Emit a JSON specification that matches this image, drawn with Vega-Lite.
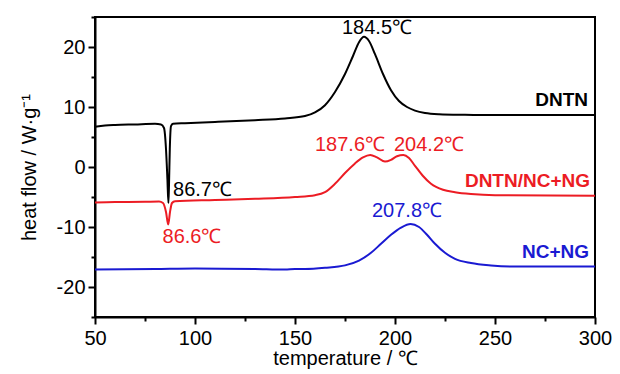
{
  "$schema": "https://vega.github.io/schema/vega-lite/v6.json",
  "width": 500,
  "height": 300,
  "autosize": "none",
  "padding": {"left": 95, "top": 17, "right": 25, "bottom": 57},
  "background": "white",
  "config": {
    "view": {"stroke": "black", "strokeWidth": 2},
    "font": "Liberation Sans",
    "axis": {
      "grid": false,
      "domainColor": "black",
      "domainWidth": 2,
      "tickColor": "black",
      "tickWidth": 2,
      "labelColor": "black",
      "labelFontSize": 20,
      "labelFont": "Liberation Sans",
      "titleFont": "Liberation Sans",
      "titleFontSize": 20,
      "titleFontWeight": "normal",
      "titleColor": "black",
      "labelOverlap": false,
      "labelFlush": false
    }
  },
  "datasets": {
    "curves": [
      {"series": "DNTN", "t": 50, "v": 6.7},
      {"series": "DNTN", "t": 55, "v": 6.9},
      {"series": "DNTN", "t": 60, "v": 7.0},
      {"series": "DNTN", "t": 70, "v": 7.1},
      {"series": "DNTN", "t": 80, "v": 7.2},
      {"series": "DNTN", "t": 83, "v": 7.1},
      {"series": "DNTN", "t": 84.5, "v": 6.5},
      {"series": "DNTN", "t": 85.5, "v": 3},
      {"series": "DNTN", "t": 86.2, "v": -2},
      {"series": "DNTN", "t": 86.7, "v": -6.0},
      {"series": "DNTN", "t": 87.0, "v": -3},
      {"series": "DNTN", "t": 87.4, "v": 3},
      {"series": "DNTN", "t": 88, "v": 6.8},
      {"series": "DNTN", "t": 89, "v": 7.2},
      {"series": "DNTN", "t": 95, "v": 7.3},
      {"series": "DNTN", "t": 110, "v": 7.5},
      {"series": "DNTN", "t": 130, "v": 7.8},
      {"series": "DNTN", "t": 145, "v": 8.1},
      {"series": "DNTN", "t": 155, "v": 8.5},
      {"series": "DNTN", "t": 160, "v": 9.1},
      {"series": "DNTN", "t": 165, "v": 10.3},
      {"series": "DNTN", "t": 170, "v": 12.5},
      {"series": "DNTN", "t": 175, "v": 15.5},
      {"series": "DNTN", "t": 179, "v": 18.5},
      {"series": "DNTN", "t": 182, "v": 20.8},
      {"series": "DNTN", "t": 184.5, "v": 21.7},
      {"series": "DNTN", "t": 187, "v": 21.0},
      {"series": "DNTN", "t": 190, "v": 18.8},
      {"series": "DNTN", "t": 194, "v": 15.5},
      {"series": "DNTN", "t": 198, "v": 12.8},
      {"series": "DNTN", "t": 202, "v": 11.0},
      {"series": "DNTN", "t": 206, "v": 10.0},
      {"series": "DNTN", "t": 210, "v": 9.4},
      {"series": "DNTN", "t": 215, "v": 9.0},
      {"series": "DNTN", "t": 222, "v": 8.8},
      {"series": "DNTN", "t": 235, "v": 8.7},
      {"series": "DNTN", "t": 250, "v": 8.65},
      {"series": "DNTN", "t": 300, "v": 8.65},
      {"series": "DNTN/NC+NG", "t": 50, "v": -5.9},
      {"series": "DNTN/NC+NG", "t": 60, "v": -5.85},
      {"series": "DNTN/NC+NG", "t": 75, "v": -5.8},
      {"series": "DNTN/NC+NG", "t": 82, "v": -5.75},
      {"series": "DNTN/NC+NG", "t": 84, "v": -6.0},
      {"series": "DNTN/NC+NG", "t": 85.5, "v": -7.5},
      {"series": "DNTN/NC+NG", "t": 86.6, "v": -9.6},
      {"series": "DNTN/NC+NG", "t": 87.5, "v": -7.5},
      {"series": "DNTN/NC+NG", "t": 88.5, "v": -6.0},
      {"series": "DNTN/NC+NG", "t": 90, "v": -5.7},
      {"series": "DNTN/NC+NG", "t": 110, "v": -5.5},
      {"series": "DNTN/NC+NG", "t": 130, "v": -5.3},
      {"series": "DNTN/NC+NG", "t": 150, "v": -5.0},
      {"series": "DNTN/NC+NG", "t": 160, "v": -4.7},
      {"series": "DNTN/NC+NG", "t": 165, "v": -4.2},
      {"series": "DNTN/NC+NG", "t": 170, "v": -2.8},
      {"series": "DNTN/NC+NG", "t": 175, "v": -1.0},
      {"series": "DNTN/NC+NG", "t": 180, "v": 0.6},
      {"series": "DNTN/NC+NG", "t": 184, "v": 1.6},
      {"series": "DNTN/NC+NG", "t": 187.6, "v": 2.0},
      {"series": "DNTN/NC+NG", "t": 191, "v": 1.6},
      {"series": "DNTN/NC+NG", "t": 195, "v": 0.9},
      {"series": "DNTN/NC+NG", "t": 198, "v": 1.2},
      {"series": "DNTN/NC+NG", "t": 201, "v": 1.8},
      {"series": "DNTN/NC+NG", "t": 204.2, "v": 2.0},
      {"series": "DNTN/NC+NG", "t": 207, "v": 1.5},
      {"series": "DNTN/NC+NG", "t": 210, "v": 0.2},
      {"series": "DNTN/NC+NG", "t": 214, "v": -1.5},
      {"series": "DNTN/NC+NG", "t": 218, "v": -2.8},
      {"series": "DNTN/NC+NG", "t": 224, "v": -3.8},
      {"series": "DNTN/NC+NG", "t": 230, "v": -4.2},
      {"series": "DNTN/NC+NG", "t": 238, "v": -4.5},
      {"series": "DNTN/NC+NG", "t": 250, "v": -4.7},
      {"series": "DNTN/NC+NG", "t": 300, "v": -4.8},
      {"series": "NC+NG", "t": 50, "v": -17.1},
      {"series": "NC+NG", "t": 80, "v": -17.0},
      {"series": "NC+NG", "t": 100, "v": -16.9},
      {"series": "NC+NG", "t": 130, "v": -17.0},
      {"series": "NC+NG", "t": 145, "v": -17.1},
      {"series": "NC+NG", "t": 150, "v": -17.0},
      {"series": "NC+NG", "t": 155, "v": -17.0},
      {"series": "NC+NG", "t": 165, "v": -16.8},
      {"series": "NC+NG", "t": 175, "v": -16.4},
      {"series": "NC+NG", "t": 182, "v": -15.6},
      {"series": "NC+NG", "t": 188, "v": -14.3},
      {"series": "NC+NG", "t": 193, "v": -12.8},
      {"series": "NC+NG", "t": 198, "v": -11.3},
      {"series": "NC+NG", "t": 203, "v": -10.1},
      {"series": "NC+NG", "t": 207.8, "v": -9.5},
      {"series": "NC+NG", "t": 212, "v": -10.0},
      {"series": "NC+NG", "t": 216, "v": -11.3},
      {"series": "NC+NG", "t": 220, "v": -12.8},
      {"series": "NC+NG", "t": 225, "v": -14.3},
      {"series": "NC+NG", "t": 230, "v": -15.3},
      {"series": "NC+NG", "t": 238, "v": -16.0},
      {"series": "NC+NG", "t": 248, "v": -16.4},
      {"series": "NC+NG", "t": 260, "v": -16.6},
      {"series": "NC+NG", "t": 300, "v": -16.6}
    ],
    "annotations": [
      {"series": "DNTN", "t": 191, "v": 23.2, "label": "184.5℃"},
      {"series": "DNTN", "t": 103.75, "v": -3.8, "label": "86.7℃"},
      {"series": "DNTN/NC+NG", "t": 98.5, "v": -11.7, "label": "86.6℃"},
      {"series": "DNTN/NC+NG", "t": 177.5, "v": 3.6, "label": "187.6℃"},
      {"series": "DNTN/NC+NG", "t": 217, "v": 3.6, "label": "204.2℃"},
      {"series": "NC+NG", "t": 206, "v": -7.4, "label": "207.8℃"}
    ],
    "names": [
      {"series": "DNTN", "t": 296.5, "v": 11.1, "label": "DNTN"},
      {"series": "DNTN/NC+NG", "t": 297.5, "v": -2.4, "label": "DNTN/NC+NG"},
      {"series": "NC+NG", "t": 297, "v": -14.1, "label": "NC+NG"}
    ]
  },
  "encoding": {
    "x": {
      "field": "t",
      "type": "quantitative",
      "scale": {"domain": [50, 300], "nice": false},
      "axis": {
        "title": "temperature / ℃",
        "values": [50, 75, 100, 125, 150, 175, 200, 225, 250, 275, 300],
        "labelExpr": "datum.value % 50 === 0 ? '' + datum.value : ''",
        "tickSize": {"condition": {"test": "datum.value % 50 === 0", "value": 7}, "value": 4},
        "labelPadding": 4,
        "titlePadding": 0
      }
    },
    "y": {
      "field": "v",
      "type": "quantitative",
      "scale": {"domain": [-25, 25], "nice": false},
      "axis": {
        "title": "heat flow / W·g⁻¹",
        "values": [-25, -20, -15, -10, -5, 0, 5, 10, 15, 20, 25],
        "labelExpr": "datum.value % 10 === 0 ? '' + datum.value : ''",
        "tickSize": {"condition": {"test": "datum.value % 10 === 0", "value": 7}, "value": 4},
        "labelPadding": 3,
        "titlePadding": 17
      }
    },
    "color": {
      "field": "series",
      "type": "nominal",
      "scale": {"domain": ["DNTN", "DNTN/NC+NG", "NC+NG"], "range": ["#000000", "#ec1c24", "#1a1ad2"]},
      "legend": null
    }
  },
  "layer": [
    {
      "data": {"name": "curves"},
      "mark": {"type": "line", "strokeWidth": 2, "interpolate": "monotone"}
    },
    {
      "data": {"name": "annotations"},
      "mark": {"type": "text", "fontSize": 20, "align": "center", "baseline": "middle", "font": "Liberation Sans"},
      "encoding": {"text": {"field": "label"}}
    },
    {
      "data": {"name": "names"},
      "mark": {"type": "text", "fontSize": 19, "fontWeight": "bold", "align": "right", "baseline": "middle", "font": "Liberation Sans"},
      "encoding": {"text": {"field": "label"}}
    }
  ]
}
